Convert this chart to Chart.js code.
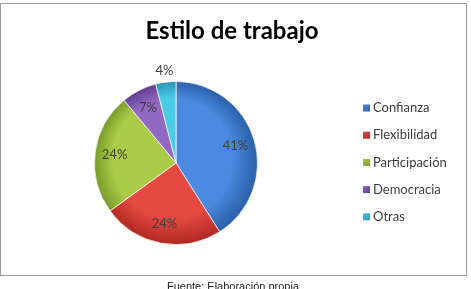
<!DOCTYPE html>
<html>
<head>
<meta charset="utf-8">
<script src="https://cdn.jsdelivr.net/npm/chart.js@4/dist/chart.umd.min.js"></script>
<style>
  html, body { margin: 0; padding: 0; background: #fff; overflow: hidden; }
  #wrap { position: relative; width: 471px; height: 289px; }
  #frame { position: absolute; left: 0; top: 3px; width: 465px; height: 271px; border: 1px solid #9c9c9c; box-sizing: content-box; pointer-events: none; }
  #pie { position: absolute; left: 0; top: 0; }
  #fuente { position: absolute; left: 0; width: 466px; top: 280px; text-align: center; font-family: "Liberation Sans", Arial, sans-serif; font-size: 11px; color: #222; }
</style>
</head>
<body>
<div id="wrap">
  <canvas id="pie" width="471" height="289"></canvas>
  <div id="frame"></div>
  <div id="fuente">Fuente: Elaboración propia</div>
</div>
<script>
// Estilo de trabajo - pie
const categories = ['Confianza', 'Flexibilidad', 'Participación', 'Democracia', 'Otras'];
const percentages = [41, 24, 24, 7, 4];
const chartTitle = 'Estilo de trabajo';

// light / dark pairs for the shaded 3D look
const lightColors = ['#4a8ae0', '#e44a42', '#aacc48', '#9168c2', '#4ccbe6'];
const darkColors = ['#2a5ea8', '#b02822', '#789a2a', '#5f3c8e', '#2694b2'];

function sliceFill(ctx) {
    const chart = ctx.chart;
    const area = chart.chartArea;
    const i = ctx.dataIndex;
    if (!area) return lightColors[i];
    const cx = (area.left + area.right) / 2;
    const cy = (area.top + area.bottom) / 2;
    const r = Math.min(area.right - area.left, area.bottom - area.top) / 2;
    const g = chart.ctx.createRadialGradient(cx - r * 0.15, cy - r * 0.2, r * 0.1, cx, cy, r);
    g.addColorStop(0, lightColors[i]);
    g.addColorStop(0.7, lightColors[i]);
    g.addColorStop(1, darkColors[i]);
    return g;
}

const decorPlugin = {
    id: 'decor',
    afterDraw(chart) {
        const c = chart.ctx;
        c.save();
        // title
        c.fillStyle = '#000';
        c.font = 'bold 24px Lato, sans-serif';
        c.textAlign = 'center';
        c.textBaseline = 'middle';
        c.fillText(chartTitle, 232, 31);

        // slice labels
        const meta = chart.getDatasetMeta(0);
        c.font = '13px Lato, sans-serif';
        c.fillStyle = '#404040';
        meta.data.forEach((arc, i) => {
            const p = arc.getProps(['x', 'y', 'startAngle', 'endAngle', 'outerRadius'], true);
            const mid = (p.startAngle + p.endAngle) / 2;
            const f = percentages[i] < 5 ? 1.14 : 0.76;
            const x = p.x + Math.cos(mid) * p.outerRadius * f;
            const y = p.y + Math.sin(mid) * p.outerRadius * f;
            c.fillText(percentages[i] + '%', x, y);
        });

        // legend
        c.textAlign = 'left';
        c.font = '13px Lato, sans-serif';
        categories.forEach((name, i) => {
            const y = 108 + i * 27.2;
            const g = c.createLinearGradient(363, y - 4, 370, y + 4);
            g.addColorStop(0, lightColors[i]);
            g.addColorStop(1, darkColors[i]);
            c.fillStyle = g;
            c.fillRect(363, y - 3.5, 7, 7);
            c.fillStyle = '#404040';
            c.fillText(name, 373, y);
        });
        c.restore();
    }
};

new Chart(document.getElementById('pie'), {
    type: 'pie',
    data: {
        labels: categories,
        datasets: [{
            data: percentages,
            backgroundColor: sliceFill,
            borderColor: 'rgba(255,255,255,0.7)',
            borderWidth: 1
        }]
    },
    options: {
        responsive: false,
        animation: false,
        layout: { padding: { left: 94, right: 213, top: 81, bottom: 44 } },
        plugins: {
            legend: { display: false },
            title: { display: false },
            tooltip: { enabled: false }
        }
    },
    plugins: [decorPlugin]
});
</script>
</body>
</html>
